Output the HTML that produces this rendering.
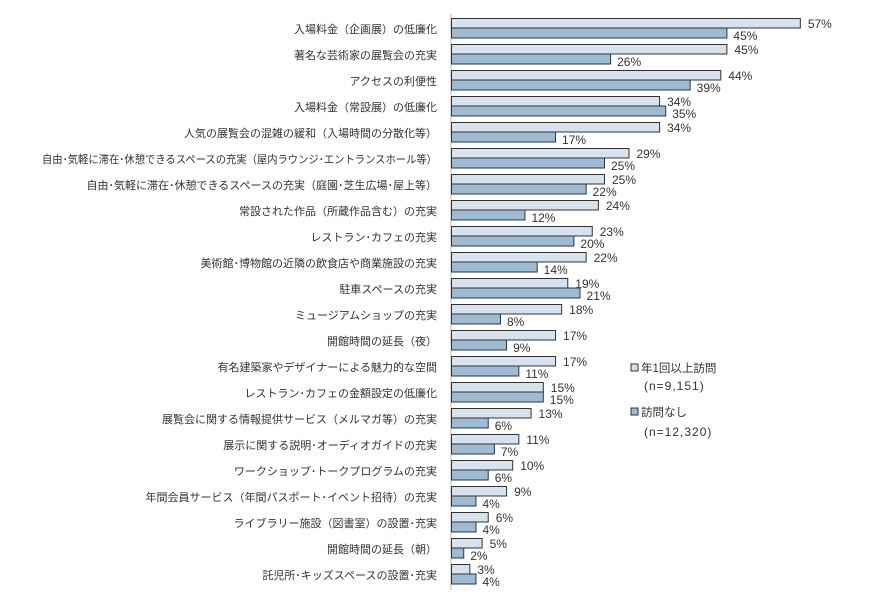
<!DOCTYPE html>
<html><head><meta charset="utf-8"><style>
html,body{margin:0;padding:0;background:#fff;}
svg{display:block;font-family:"Liberation Sans","Noto Sans CJK JP",sans-serif;}
</style></head><body>
<svg id="c" width="896" height="595" xmlns="http://www.w3.org/2000/svg">
<line x1="451" y1="14" x2="451" y2="590" stroke="#bbb" stroke-width="1"/>
<g id="g"></g>
<rect x="631" y="364" width="7" height="7" fill="#d6e2ee" stroke="#333" stroke-width="1"/>
<text x="641" y="372" font-size="11.5" fill="#333">年1回以上訪問</text>
<text x="644" y="390" font-size="12" fill="#333" letter-spacing="1">(n=9,151)</text>
<rect x="631" y="408" width="7" height="7" fill="#9dbbd3" stroke="#333" stroke-width="1"/>
<text x="641" y="416" font-size="11.5" fill="#333">訪問なし</text>
<text x="644" y="436" font-size="12" fill="#333" letter-spacing="1">(n=12,320)</text>
</svg>
<script>
var d=[["入場料金（企画展）の低廉化",57,45],["著名な芸術家の展覧会の充実",45,26],["アクセスの利便性",44,39],["入場料金（常設展）の低廉化",34,35],["人気の展覧会の混雑の緩和（入場時間の分散化等）",34,17],["自由・気軽に滞在・休憩できるスペースの充実（屋内ラウンジ・エントランスホール等）",29,25],["自由・気軽に滞在・休憩できるスペースの充実（庭園・芝生広場・屋上等）",25,22],["常設された作品（所蔵作品含む）の充実",24,12],["レストラン・カフェの充実",23,20],["美術館・博物館の近隣の飲食店や商業施設の充実",22,14],["駐車スペースの充実",19,21],["ミュージアムショップの充実",18,8],["開館時間の延長（夜）",17,9],["有名建築家やデザイナーによる魅力的な空間",17,11],["レストラン・カフェの金額設定の低廉化",15,15],["展覧会に関する情報提供サービス（メルマガ等）の充実",13,6],["展示に関する説明・オーディオガイドの充実",11,7],["ワークショップ・トークプログラムの充実",10,6],["年間会員サービス（年間パスポート・イベント招待）の充実",9,4],["ライブラリー施設（図書室）の設置・充実",6,4],["開館時間の延長（朝）",5,2],["託児所・キッズスペースの設置・充実",3,4]];
var s="",k=6.12;
d.forEach(function(r,i){var y=18+26*i;
var w1=r[1]*k,w2=r[2]*k;
var tl=(i==5)?' textLength="395" lengthAdjust="spacingAndGlyphs"':'';
s+='<text x="437" y="'+(y+15)+'" font-size="11" fill="#333" text-anchor="end"'+tl+'>'+r[0].replace(/・/g,'･')+'</text>';
s+='<rect x="451.5" y="'+(y+0.5)+'" width="'+w1+'" height="9.5" fill="#d6e2ee" stroke="#333" stroke-width="1"/>';
s+='<rect x="451.5" y="'+(y+10)+'" width="'+w2+'" height="10" fill="#9dbbd3" stroke="#333" stroke-width="1"/>';
s+='<text x="'+(451+w1+8)+'" y="'+(y+10)+'" font-size="12" fill="#333">'+r[1]+'%</text>';
s+='<text x="'+(451+w2+7)+'" y="'+(y+22)+'" font-size="12" fill="#333">'+r[2]+'%</text>';
});
document.getElementById("g").innerHTML=s;
</script>
</body></html>
